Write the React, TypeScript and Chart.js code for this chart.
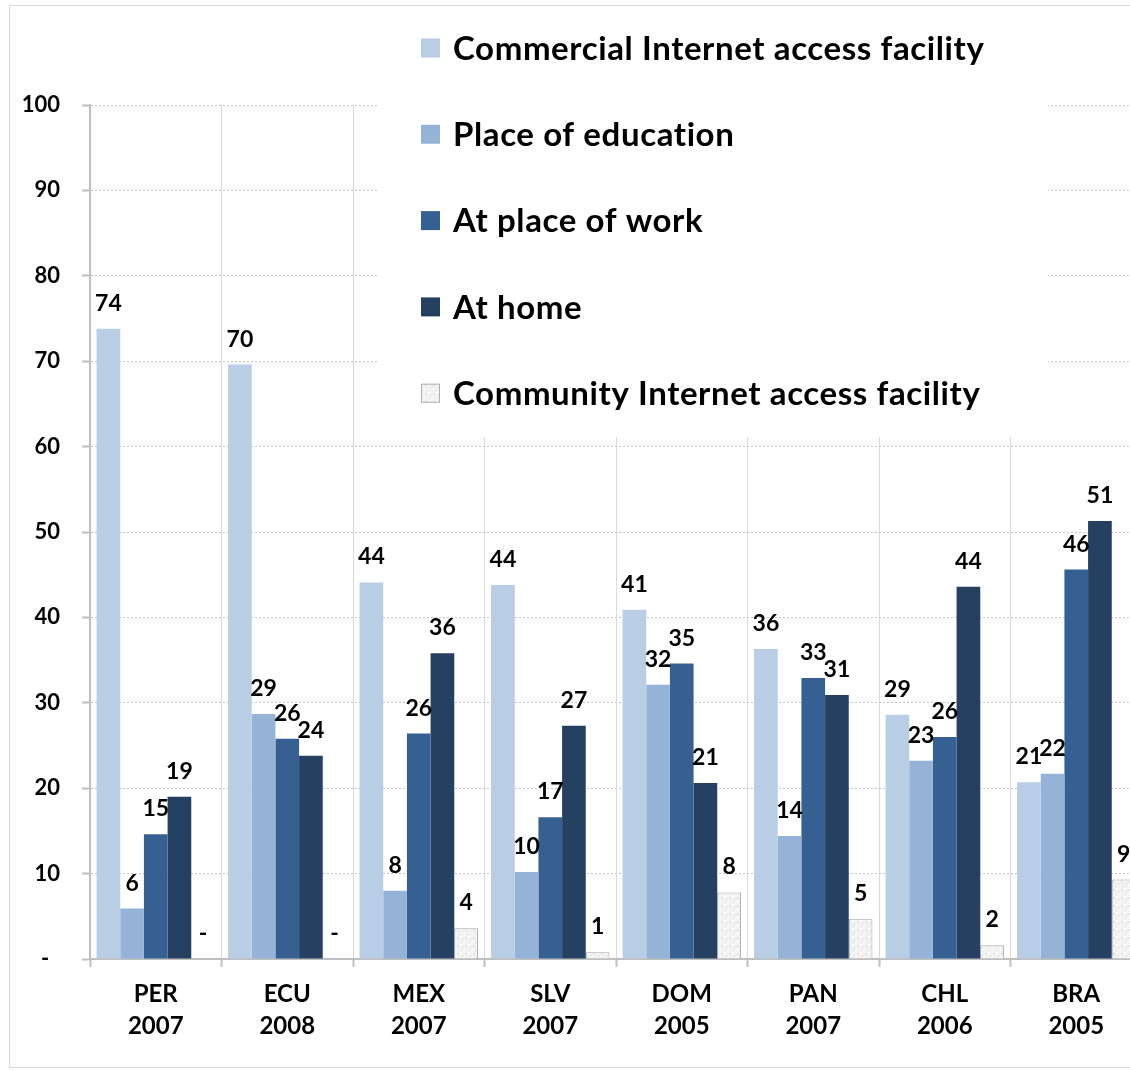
import React, { useEffect, useRef } from 'react';
import { Chart, registerables } from 'chart.js';

Chart.register(...registerables);

const FONT = 'Lato, "Open Sans", "DejaVu Sans", sans-serif';

const categories: string[][] = [
  ['PER', '2007'],
  ['ECU', '2008'],
  ['MEX', '2007'],
  ['SLV', '2007'],
  ['DOM', '2005'],
  ['PAN', '2007'],
  ['CHL', '2006'],
  ['BRA', '2005'],
];

const seriesNames = [
  'Commercial Internet access facility',
  'Place of education',
  'At place of work',
  'At home',
  'Community Internet access facility',
];

const commercial = [73.8, 69.6, 44.1, 43.8, 40.9, 36.3, 28.6, 20.7];
const education = [5.9, 28.7, 8.0, 10.2, 32.1, 14.4, 23.2, 21.7];
const work = [14.6, 25.8, 26.4, 16.6, 34.6, 32.9, 26.0, 45.6];
const home = [19.0, 23.8, 35.8, 27.3, 20.6, 30.9, 43.6, 51.3];
const community = [0, 0, 3.6, 0.8, 7.8, 4.7, 1.6, 9.3];

const yTickValues = [0, 10, 20, 30, 40, 50, 60, 70, 80, 90, 100];

const COLORS = ['#b9cde5', '#95b3d7', '#366092', '#254061'];

function makePattern(): CanvasPattern | string {
  const c = document.createElement('canvas');
  c.width = 8;
  c.height = 8;
  const g = c.getContext('2d');
  if (!g) return '#efefef';
  g.fillStyle = '#f3f3f3';
  g.fillRect(0, 0, 8, 8);
  g.fillStyle = '#e3e3e3';
  g.fillRect(1, 1, 2, 2);
  g.fillRect(5, 3, 2, 1);
  g.fillRect(3, 5, 1, 2);
  g.fillRect(6, 6, 1, 1);
  g.fillStyle = '#fbfbfb';
  g.fillRect(4, 0, 2, 2);
  g.fillRect(0, 5, 2, 1);
  return g.createPattern(c, 'repeat') || '#efefef';
}

const framePlugin = {
  id: 'frame',
  beforeDraw(chart: any) {
    const ctx = chart.ctx;
    ctx.save();
    ctx.fillStyle = '#ffffff';
    ctx.fillRect(0, 0, chart.width, chart.height);
    ctx.strokeStyle = '#d9d9d9';
    ctx.lineWidth = 1;
    ctx.strokeRect(9.5, 5.5, 1300, 1062);
    ctx.restore();
  },
};

const legendPlugin = {
  id: 'customLegend',
  beforeDatasetsDraw(chart: any) {
    const ctx = chart.ctx;
    ctx.save();
    ctx.fillStyle = '#ffffff';
    ctx.fillRect(378, 12, 670, 425);
    const ds = chart.data.datasets;
    ds.forEach((d: any, k: number) => {
      const cy = 48 + k * 86.3;
      ctx.fillStyle = d.backgroundColor;
      ctx.fillRect(421, cy - 9.5, 19, 19);
      if (d.borderWidth) {
        ctx.strokeStyle = '#b0b0b0';
        ctx.lineWidth = 1;
        ctx.strokeRect(421.5, cy - 9, 18, 18);
      }
      ctx.fillStyle = '#000000';
      ctx.font = `bold 33px ${FONT}`;
      try {
        (ctx as any).letterSpacing = '0.6px';
      } catch (e) {
        /* ignore */
      }
      ctx.textAlign = 'left';
      ctx.textBaseline = 'middle';
      ctx.fillText(d.label, 453, cy + 1);
    });
    ctx.restore();
  },
};

const valueLabelPlugin = {
  id: 'valueLabels',
  afterDatasetsDraw(chart: any) {
    const ctx = chart.ctx;
    ctx.save();
    ctx.fillStyle = '#000000';
    ctx.font = `bold 23px ${FONT}`;
    ctx.textAlign = 'center';
    ctx.textBaseline = 'alphabetic';
    chart.data.datasets.forEach((d: any, i: number) => {
      const meta = chart.getDatasetMeta(i);
      meta.data.forEach((el: any, j: number) => {
        const v = d.data[j] as number;
        const txt = v === 0 ? '-' : String(Math.round(v));
        ctx.fillText(txt, el.x, el.y - 18);
      });
    });
    ctx.restore();
  },
};

export default function App() {
  const ref = useRef<HTMLCanvasElement | null>(null);

  useEffect(() => {
    if (!ref.current) return;
    const pattern = makePattern();
    const values = [commercial, education, work, home, community];
    const chart = new Chart(ref.current, {
      type: 'bar',
      data: {
        labels: categories,
        datasets: values.map((vals, i) => ({
          label: seriesNames[i],
          data: vals,
          backgroundColor: i < 4 ? COLORS[i] : (pattern as any),
          borderColor: i < 4 ? COLORS[i] : '#a6a6a6',
          borderWidth: i < 4 ? 0 : 1,
          categoryPercentage: 0.9,
          barPercentage: 1.0,
        })),
      },
      options: {
        responsive: false,
        animation: false,
        devicePixelRatio: 1,
        layout: { padding: { left: 10, top: 105, right: 0, bottom: 0 } },
        plugins: {
          legend: { display: false },
          tooltip: { enabled: false },
        },
        scales: {
          x: {
            offset: true,
            grid: {
              offset: true,
              color: '#d9d9d9',
              lineWidth: 1,
              tickLength: 8,
              tickColor: '#bfbfbf',
              tickWidth: 2,
            },
            border: { color: '#bfbfbf', width: 2 },
            ticks: {
              color: '#000000',
              font: { family: FONT, size: 24, weight: 'bold', lineHeight: '32px' } as any,
              padding: 11,
              maxRotation: 0,
              autoSkip: false,
            },
            afterFit: (s: any) => {
              s.height = 112;
            },
          },
          y: {
            min: 0,
            max: 100,
            afterBuildTicks: (s: any) => {
              s.ticks = yTickValues.map((v) => ({ value: v }));
            },
            grid: {
              color: '#c4c4c4',
              lineWidth: 1,
              tickLength: 8,
              tickColor: '#bfbfbf',
              tickWidth: 2,
            },
            border: { color: '#bfbfbf', width: 2, dash: [2, 2] },
            ticks: {
              color: '#000000',
              font: { family: FONT, size: 22, weight: 'bold' } as any,
              padding: 22,
              callback: (v: any) => (Number(v) === 0 ? '-  ' : String(v)),
            },
            afterFit: (s: any) => {
              s.width = 80;
            },
          },
        },
      } as any,
      plugins: [framePlugin, legendPlugin, valueLabelPlugin],
    });
    return () => chart.destroy();
  }, []);

  return (
    <div
      style={{
        position: 'fixed',
        left: 0,
        top: 0,
        width: 1130,
        height: 1071,
        overflow: 'hidden',
        background: '#ffffff',
      }}
    >
      <canvas ref={ref} width={1142} height={1071} style={{ display: 'block', width: 1142, height: 1071 }} />
    </div>
  );
}
